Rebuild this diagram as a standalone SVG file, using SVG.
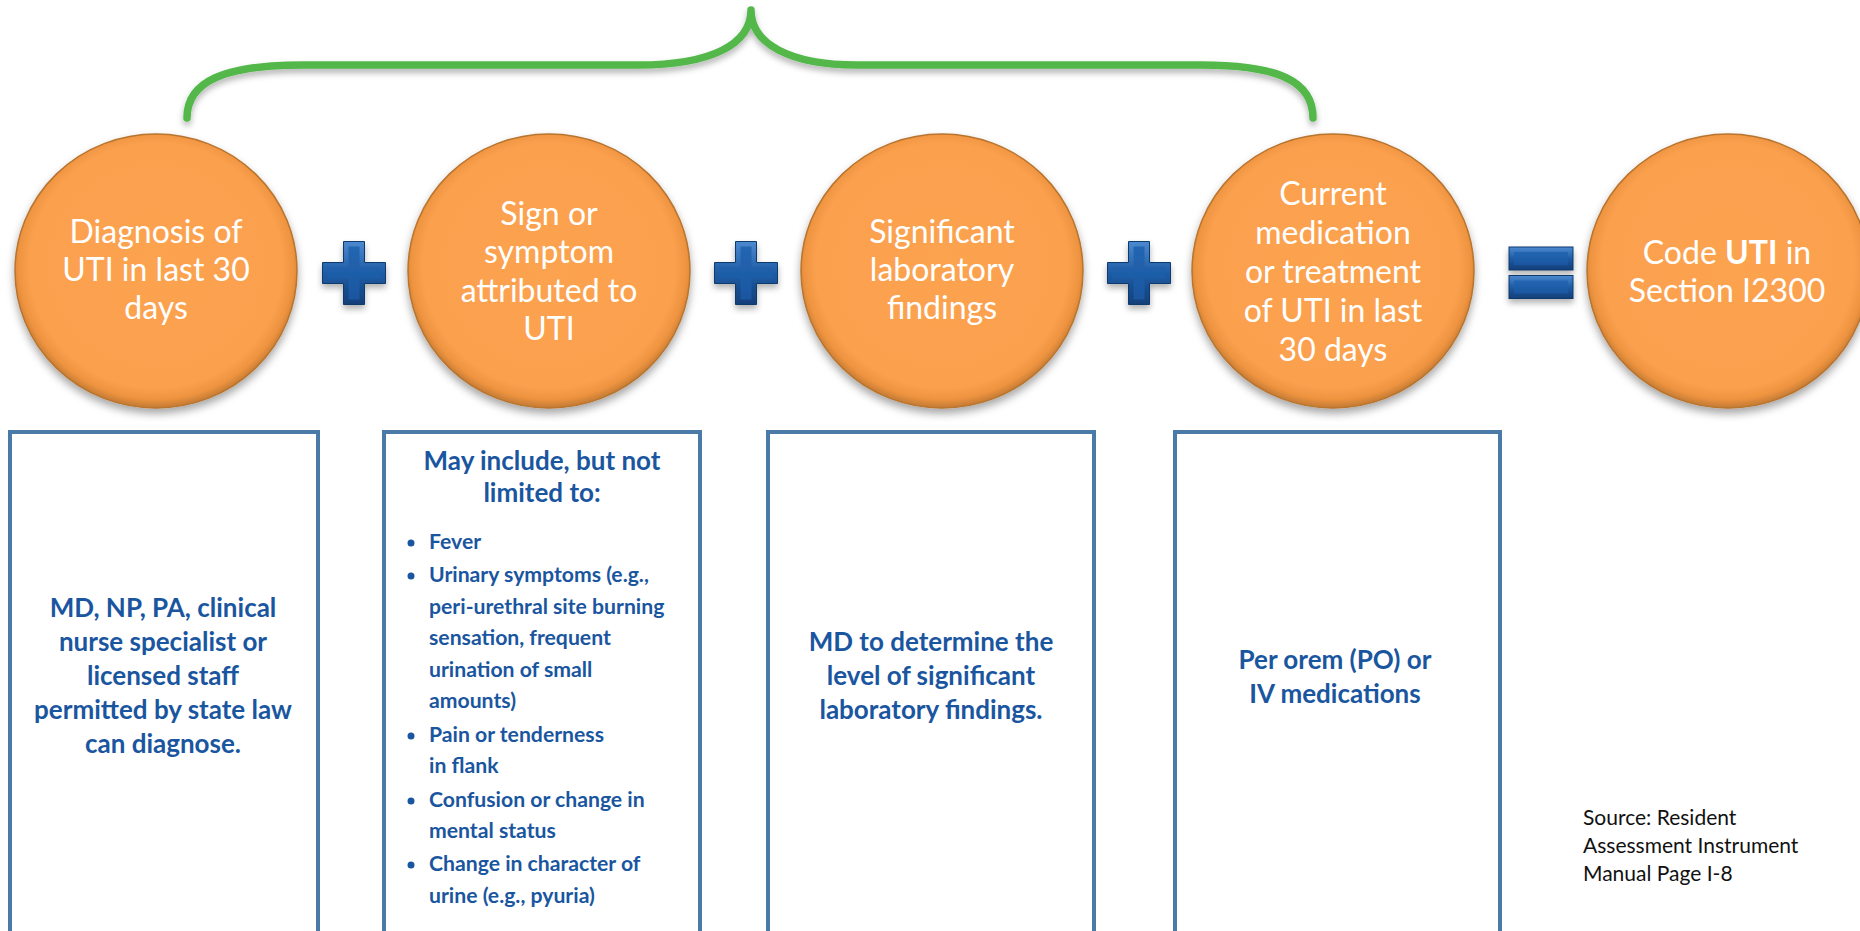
<svg xmlns="http://www.w3.org/2000/svg" width="1860" height="931" viewBox="0 0 1860 931">
  <style>
    .ctext { font-family: Lato, "Open Sans", sans-serif; font-size: 32px; fill: #ffffff; text-anchor: middle; }
    .btext { font-family: Lato, "Open Sans", sans-serif; font-size: 26px; font-weight: bold; fill: #1A56A0; text-anchor: middle; }
    .ltext { font-family: Lato, "Open Sans", sans-serif; font-size: 21.2px; font-weight: bold; fill: #1A56A0; }
    .src { font-family: Lato, "Open Sans", sans-serif; font-size: 21px; fill: #111111; }
    .box { fill: #ffffff; stroke: #4A7AA7; stroke-width: 4; }
    .circ { fill: url(#orange); stroke: #B8742F; stroke-width: 1.5; filter: url(#shadow); }
    .brace { fill: none; stroke: #52B84A; stroke-width: 7.5; stroke-linecap: round; stroke-linejoin: round; filter: url(#shadow2); }
  </style>
  <defs>
    <radialGradient id="orange" cx="50%" cy="48%" r="52%">
      <stop offset="0%" stop-color="#FCA350"/>
      <stop offset="86%" stop-color="#FBA04E"/>
      <stop offset="94%" stop-color="#EE933F"/>
      <stop offset="100%" stop-color="#C27A34"/>
    </radialGradient>
    <linearGradient id="blueOuter" x1="0" y1="0" x2="0" y2="1">
      <stop offset="0%" stop-color="#4C89CF"/>
      <stop offset="50%" stop-color="#1E5CA5"/>
      <stop offset="100%" stop-color="#113F78"/>
    </linearGradient>
    <linearGradient id="blueInner" x1="0" y1="0" x2="0" y2="1">
      <stop offset="0%" stop-color="#2466B2"/>
      <stop offset="100%" stop-color="#1A56A0"/>
    </linearGradient>
    <filter id="shadow" x="-20%" y="-20%" width="140%" height="140%">
      <feDropShadow dx="0" dy="5" stdDeviation="4" flood-color="#000000" flood-opacity="0.35"/>
    </filter>
    <filter id="shadow2" x="-10%" y="-30%" width="120%" height="160%">
      <feDropShadow dx="0" dy="4" stdDeviation="3" flood-color="#000000" flood-opacity="0.3"/>
    </filter>
    <g id="plus">
      <polygon points="-10.5,-31.5 10.5,-31.5 10.5,-10.5 31.5,-10.5 31.5,10.5 10.5,10.5 10.5,31.5 -10.5,31.5 -10.5,10.5 -31.5,10.5 -31.5,-10.5 -10.5,-10.5" fill="url(#blueOuter)" stroke="#0F3A6E" stroke-width="1"/>
      <polygon points="-5.5,-26.5 5.5,-26.5 5.5,-5.5 26.5,-5.5 26.5,5.5 5.5,5.5 5.5,26.5 -5.5,26.5 -5.5,5.5 -26.5,5.5 -26.5,-5.5 -5.5,-5.5" fill="url(#blueInner)"/>
    </g>
    <g id="bar">
      <rect x="-32" y="-11.5" width="64" height="23" fill="url(#blueOuter)" stroke="#0F3A6E" stroke-width="1"/>
      <rect x="-27" y="-6.5" width="54" height="13" fill="url(#blueInner)"/>
    </g>
  </defs>

  <rect x="0" y="0" width="1860" height="931" fill="#ffffff"/>

  <g id="connectors">
    <path class="brace" d="M187,118 C187,82 222,65 304,65 L638,65 C712,65 751,44 751,10 C751,44 790,65 857,65 L1201,65 C1280,65 1313,82 1313,118"/>
    <use href="#plus" x="354" y="273" filter="url(#shadow2)"/>
    <use href="#plus" x="746" y="273" filter="url(#shadow2)"/>
    <use href="#plus" x="1139" y="273" filter="url(#shadow2)"/>
    <g filter="url(#shadow2)">
      <use href="#bar" x="1541" y="258.5"/>
      <use href="#bar" x="1541" y="287"/>
    </g>
  </g>

  <g id="node-diagnosis">
    <ellipse class="circ" cx="156" cy="271" rx="141" ry="137"/>
    <text class="ctext" x="156" y="243">Diagnosis of</text>
    <text class="ctext" x="156" y="281">UTI in last 30</text>
    <text class="ctext" x="156" y="319">days</text>
  </g>

  <g id="node-sign">
    <ellipse class="circ" cx="549" cy="271" rx="141" ry="137"/>
    <text class="ctext" x="549" y="225">Sign or</text>
    <text class="ctext" x="549" y="263">symptom</text>
    <text class="ctext" x="549" y="302">attributed to</text>
    <text class="ctext" x="549" y="340">UTI</text>
  </g>

  <g id="node-lab">
    <ellipse class="circ" cx="942" cy="271" rx="141" ry="137"/>
    <text class="ctext" x="942" y="243">Significant</text>
    <text class="ctext" x="942" y="281">laboratory</text>
    <text class="ctext" x="942" y="319">findings</text>
  </g>

  <g id="node-medication">
    <ellipse class="circ" cx="1333" cy="271" rx="141" ry="137"/>
    <text class="ctext" x="1333" y="205">Current</text>
    <text class="ctext" x="1333" y="244">medication</text>
    <text class="ctext" x="1333" y="283">or treatment</text>
    <text class="ctext" x="1333" y="322">of UTI in last</text>
    <text class="ctext" x="1333" y="361">30 days</text>
  </g>

  <g id="node-code">
    <ellipse class="circ" cx="1728" cy="271" rx="141" ry="137"/>
    <text class="ctext" x="1727" y="264">Code <tspan font-weight="bold">UTI</tspan> in</text>
    <text class="ctext" x="1727" y="302">Section I2300</text>
  </g>

  <g id="box-diagnosis">
    <rect class="box" x="10" y="432" width="308" height="520"/>
    <text class="btext" x="163" y="617">MD, NP, PA, clinical</text>
    <text class="btext" x="163" y="651">nurse specialist or</text>
    <text class="btext" x="163" y="685">licensed staff</text>
    <text class="btext" x="163" y="719">permitted by state law</text>
    <text class="btext" x="163" y="753">can diagnose.</text>
  </g>

  <g id="box-sign">
    <rect class="box" x="384" y="432" width="316" height="520"/>
    <text class="btext" x="542" y="470">May include, but not</text>
    <text class="btext" x="542" y="502">limited to:</text>
    <g class="ltext">
      <circle cx="411" cy="543" r="3.5" fill="#1A56A0"/>
      <text x="429" y="549">Fever</text>
      <circle cx="411" cy="576" r="3.5" fill="#1A56A0"/>
      <text x="429" y="582">Urinary symptoms (e.g.,</text>
      <text x="429" y="614">peri-urethral site burning</text>
      <text x="429" y="645">sensation, frequent</text>
      <text x="429" y="677">urination of small</text>
      <text x="429" y="708">amounts)</text>
      <circle cx="411" cy="736" r="3.5" fill="#1A56A0"/>
      <text x="429" y="742">Pain or tenderness</text>
      <text x="429" y="773">in flank</text>
      <circle cx="411" cy="801" r="3.5" fill="#1A56A0"/>
      <text x="429" y="807">Confusion or change in</text>
      <text x="429" y="838">mental status</text>
      <circle cx="411" cy="865" r="3.5" fill="#1A56A0"/>
      <text x="429" y="871">Change in character of</text>
      <text x="429" y="903">urine (e.g., pyuria)</text>
    </g>
  </g>

  <g id="box-lab">
    <rect class="box" x="768" y="432" width="326" height="520"/>
    <text class="btext" x="931" y="651">MD to determine the</text>
    <text class="btext" x="931" y="685">level of significant</text>
    <text class="btext" x="931" y="719">laboratory findings.</text>
  </g>

  <g id="box-medication">
    <rect class="box" x="1175" y="432" width="325" height="520"/>
    <text class="btext" x="1335" y="669">Per orem (PO) or</text>
    <text class="btext" x="1335" y="703">IV medications</text>
  </g>

  <g id="source">
    <text class="src" x="1583" y="825">Source: Resident</text>
    <text class="src" x="1583" y="853">Assessment Instrument</text>
    <text class="src" x="1583" y="881">Manual Page I-8</text>
  </g>
</svg>
